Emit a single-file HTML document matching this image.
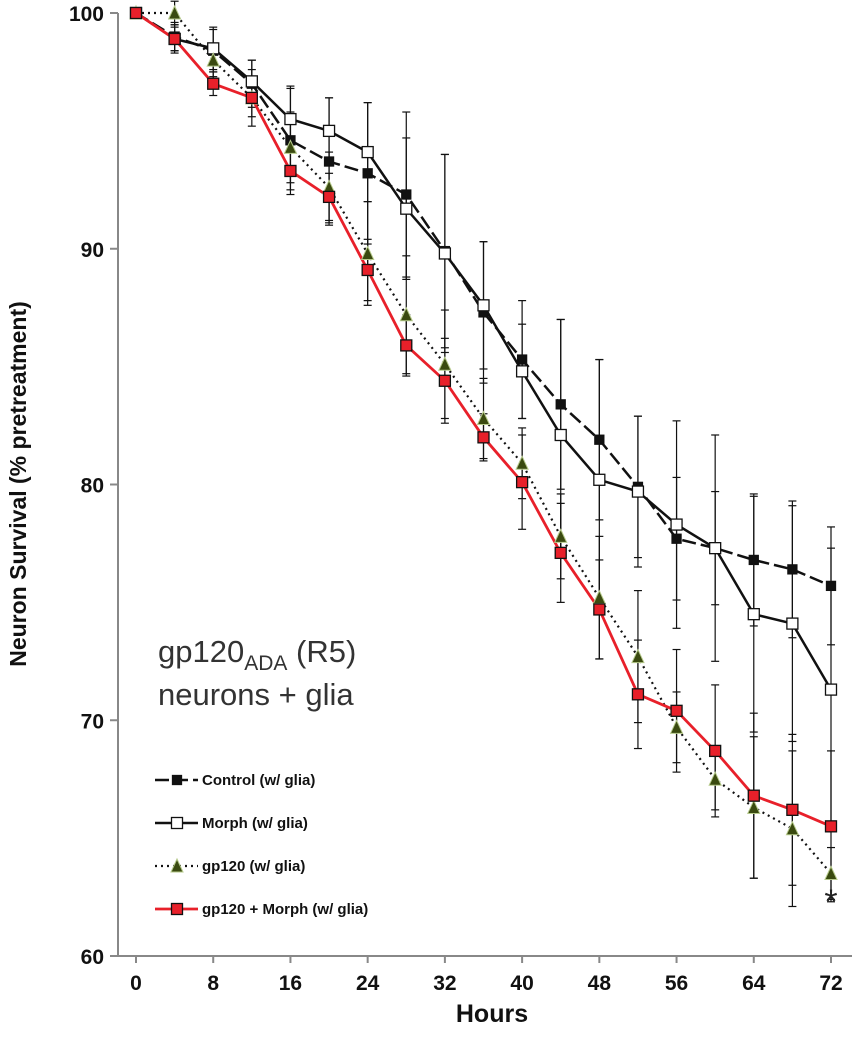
<!DOCTYPE html>
<html><head><meta charset="utf-8"><style>
html,body{margin:0;padding:0;background:#fff}
svg text{font-family:"Liberation Sans",Arial,sans-serif}
</style></head><body>
<svg id="chart" width="852" height="1050" viewBox="0 0 852 1050" xmlns="http://www.w3.org/2000/svg">
<g id="grid"></g>
<g id="bars"></g>
<g id="lines"></g>
<g id="marks"></g>
<g id="axes"></g>
<g>
<text x="158" y="662" font-size="31" fill="#333">gp120<tspan font-size="21" dy="8">ADA</tspan><tspan dy="-8"> (R5)</tspan></text>
<text x="158" y="705" font-size="31" fill="#333">neurons + glia</text>
</g>
<text x="831" y="913" font-size="34" text-anchor="middle" fill="#222">*</text>
<g id="legend"></g>
</svg>
<script>
const hours=[0,4,8,12,16,20,24,28,32,36,40,44,48,52,56,60,64,68,72];
const controlVals=[100,99.0,98.4,97.0,94.6,93.7,93.2,92.3,89.9,87.3,85.3,83.4,81.9,79.9,77.7,77.3,76.8,76.4,75.7];
const controlErr=[0,0.6,0.9,1.0,2.3,2.7,3.0,3.5,4.1,3.0,2.5,3.6,3.4,3.0,2.6,2.4,2.8,2.9,2.5];
const morphVals=[100,98.9,98.5,97.1,95.5,95.0,94.1,91.7,89.8,87.6,84.8,82.1,80.2,79.7,78.3,77.3,74.5,74.1,71.3];
const morphErr=[0,0.5,0.9,0.9,1.3,1.4,2.1,3.0,4.2,2.7,2.0,4.9,5.1,3.2,4.4,4.8,5.0,5.0,6.0];
const gpVals=[100,100,98.0,96.4,94.3,92.6,89.8,87.2,85.1,82.8,80.9,77.8,75.2,72.7,69.7,67.5,66.3,65.4,63.5];
const gpErr=[0,0.5,0.7,0.8,1.5,1.5,2.2,2.5,2.3,1.7,1.5,1.8,2.6,2.8,1.5,1.3,3.0,3.3,1.1];
const redVals=[100,98.9,97.0,96.4,93.3,92.2,89.1,85.9,84.4,82.0,80.1,77.1,74.7,71.1,70.4,68.7,66.8,66.2,65.5];
const redErr=[0,0.6,0.5,1.2,0.8,1.0,1.3,1.3,1.8,1.0,2.0,2.1,2.1,2.3,2.6,2.8,3.5,3.2,3.2];
const yTicks=[60,70,80,90,100];
const xTicks=[0,8,16,24,32,40,48,56,64,72];
const legendLabels=["Control (w/ glia)","Morph (w/ glia)","gp120 (w/ glia)","gp120 + Morph (w/ glia)"];

const X=h=>136+h*(831-136)/72;
const Y=v=>956-(v-60)*(956-13)/40;
const NS="http://www.w3.org/2000/svg";
function mk(tag,attrs,parent){const e=document.createElementNS(NS,tag);for(const k in attrs)e.setAttribute(k,attrs[k]);parent.appendChild(e);return e;}
const axes=document.getElementById('axes'),bars=document.getElementById('bars'),lines=document.getElementById('lines'),marks=document.getElementById('marks'),legend=document.getElementById('legend');

let a=mk('line',{x1:118,y1:13,x2:118,y2:957,stroke:'#888','stroke-width':2},axes);


a=mk('line',{x1:117,y1:956,x2:852,y2:956,stroke:'#888','stroke-width':2},axes);


yTicks.forEach(v=>{
  mk('line',{x1:110,y1:Y(v),x2:118,y2:Y(v),stroke:'#888','stroke-width':2},axes);
  const t=mk('text',{x:104,y:Y(v)+8,'font-size':21,'font-weight':'bold','text-anchor':'end',fill:'#111'},axes);
  t.textContent=v;
  
  
});
xTicks.forEach(h=>{
  mk('line',{x1:X(h),y1:956,x2:X(h),y2:963,stroke:'#888','stroke-width':2},axes);
  const t=mk('text',{x:X(h),y:990,'font-size':21,'font-weight':'bold','text-anchor':'middle',fill:'#111'},axes);
  t.textContent=h;
  
  
});
let t=mk('text',{x:(118+850)/2+8,y:1022,'font-size':25,'font-weight':'bold','text-anchor':'middle',fill:'#111'},axes);
t.textContent='Hours';


t=mk('text',{x:0,y:0,'font-size':23,'font-weight':'bold','text-anchor':'middle',fill:'#111',transform:'translate(26,484) rotate(-90)'},axes);
t.textContent='Neuron Survival (% pretreatment)';



const series=[
 {name:'control',vals:controlVals,err:controlErr,stroke:'#111',dash:'14 5',w:2.5,marker:'sq',fill:'#111',size:9},
 {name:'morph',vals:morphVals,err:morphErr,stroke:'#111',dash:'',w:2.5,marker:'sq',fill:'#fff',size:11},
 {name:'gp120',vals:gpVals,err:gpErr,stroke:'#111',dash:'2 4',w:2.2,marker:'tri',fill:'#3a4a10',size:12},
 {name:'gp120-morph',vals:redVals,err:redErr,stroke:'#e8202a',dash:'',w:2.8,marker:'sq',fill:'#e8202a',size:11}
];
function marker(s,cx,cy,parent){
  let m;
  if(s.marker==='tri'){
    const r=s.size/2;
    m=mk('polygon',{points:`${cx},${cy-r-1} ${cx-r},${cy+r} ${cx+r},${cy+r}`,fill:s.fill,stroke:'#b5c98a','stroke-width':1},parent);
  }else{
    m=mk('rect',{x:cx-s.size/2,y:cy-s.size/2,width:s.size,height:s.size,fill:s.fill,stroke:'#111','stroke-width':1.3},parent);
  }
  return m;
}
series.forEach(s=>{
  s.vals.forEach((v,i)=>{
    if(!s.err[i])return;
    const x=X(hours[i]);
    const g=mk('g',{stroke:'#111','stroke-width':1.2},bars);
    
    
    mk('line',{x1:x,y1:Y(v+s.err[i]),x2:x,y2:Y(v-s.err[i])},g);
    mk('line',{x1:x-4,y1:Y(v+s.err[i]),x2:x+4,y2:Y(v+s.err[i])},g);
    mk('line',{x1:x-4,y1:Y(v-s.err[i]),x2:x+4,y2:Y(v-s.err[i])},g);
  });
  const p=mk('polyline',{points:s.vals.map((v,i)=>X(hours[i])+','+Y(v)).join(' '),fill:'none',stroke:s.stroke,'stroke-width':s.w,'stroke-dasharray':s.dash},lines);
  
  
  s.vals.forEach((v,i)=>{
    const m=marker(s,X(hours[i]),Y(v),marks);
    
    
  });
});
const legY=[780,823,866,909];
series.forEach((s,i)=>{
  const g=mk('g',{},legend);
  
  
  mk('line',{x1:155,y1:legY[i],x2:198,y2:legY[i],stroke:s.stroke,'stroke-width':s.w,'stroke-dasharray':s.dash},g);
  marker(s,177,legY[i],g);
  const tt=mk('text',{x:202,y:legY[i]+5,'font-size':15,'font-weight':'bold',fill:'#111'},g);
  tt.textContent=legendLabels[i];
});
</script>
</body></html>
